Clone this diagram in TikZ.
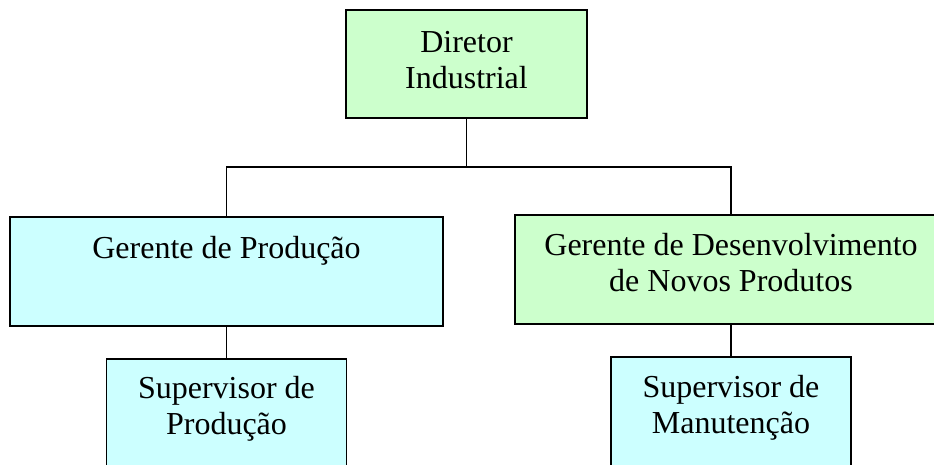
\documentclass[tikz,border=0pt]{standalone}
\usepackage{fontspec}
\setmainfont{Liberation Serif}
\begin{document}
\begin{tikzpicture}[x=1pt,y=-1pt,
  box/.style={draw=black, line width=1.6pt, rectangle, outer sep=0pt, inner sep=0pt},
  green/.style={box, fill={rgb,255:red,204;green,255;blue,204}},
  cyan/.style={box, fill={rgb,255:red,204;green,255;blue,255}},
  txt/.style={anchor=base, inner sep=0pt, font=\fontsize{32}{36.5}\selectfont},
  conn/.style={draw=black, line width=1.6pt}]
\useasboundingbox (0,0) rectangle (934,464);
\clip (0,0) rectangle (934,464);
% boxes
\node[green, minimum width=241pt, minimum height=108pt] (dir) at (466.5,64) {};
\node[cyan, minimum width=433pt, minimum height=109pt] (gp) at (226.5,271.5) {};
\node[green, minimum width=432pt, minimum height=109pt] (gd) at (731,269.5) {};
\node[cyan, minimum width=240pt, minimum height=110pt] (sp) at (226.5,414) {};
\node[cyan, minimum width=240pt, minimum height=110pt] (sm) at (731,412) {};
% texts
\node[txt] (dirT) at (466.5,52) {\begin{tabular}[t]{@{}c@{}}Diretor\\Industrial\end{tabular}};
\node[txt] (gpT) at (226.5,258) {Gerente de Produção};
\node[txt] (gdT) at (731,255) {\begin{tabular}[t]{@{}c@{}}Gerente de Desenvolvimento\\de Novos Produtos\end{tabular}};
\node[txt] (spT) at (226.5,398) {\begin{tabular}[t]{@{}c@{}}Supervisor de\\Produção\end{tabular}};
\node[txt] (smT) at (731,397) {\begin{tabular}[t]{@{}c@{}}Supervisor de\\Manutenção\end{tabular}};
% connectors
\coordinate (j) at (466.5,167);
\draw[conn] (dir.south) -- (j);
\draw[conn] (gp.north) |- (j) -| (gd.north);
\draw[conn] (gp.south) -- (sp.north);
\draw[conn] (gd.south) -- (sm.north);
\end{tikzpicture}
\end{document}
